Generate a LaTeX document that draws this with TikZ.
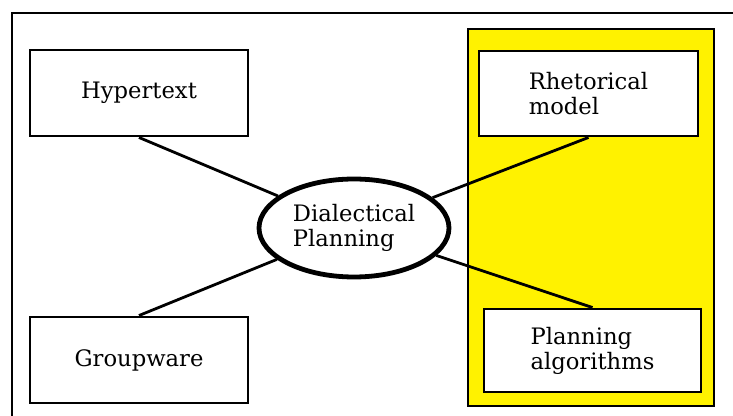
\documentclass[tikz,border=0pt]{standalone}
\usepackage{fontspec}
\setmainfont{DejaVu Serif}
\usepackage{xcolor}
\usepackage{tikz}
\usetikzlibrary{shapes.geometric, positioning}

\definecolor{panelyellow}{RGB}{255,242,0}

\begin{document}
\begin{tikzpicture}[x=0.75pt, y=-0.75pt,
        topic/.style={draw, line width=2.2pt, fill=white, inner sep=0pt,
            align=left, font=\fontsize{17}{18.75}\selectfont},
        hub/.style={ellipse, draw, line width=3.6pt, fill=white, inner sep=0pt,
            minimum width=142.5pt, minimum height=73.5pt, align=left,
            font=\fontsize{17}{18.75}\selectfont},
        link/.style={line width=2.1pt}]
        \clip (0,0) rectangle (733,416);
        \useasboundingbox (0,0) rectangle (733,416);

        % Outer frame and the yellow panel
        \draw[line width=2.2pt] (12,13) rectangle (760,440);
        \draw[fill=panelyellow, line width=1.5pt] (468,29) rectangle (714,406);

        % Add the topics
        \node[topic, minimum width=163.5pt, minimum height=64.5pt]
            (hyp) at (139,93) {Hypertext};
        \node[topic, minimum width=163.5pt, minimum height=64.5pt]
            (grp) at (139,360) {Groupware};
        \node[topic, minimum width=164.25pt, minimum height=63.75pt]
            (rhet) at (588.5,93.5) {Rhetorical\\model};
        \node[topic, minimum width=162.75pt, minimum height=62.25pt]
            (alg) at (592.5,350.5) {Planning\\algorithms};
        \node[hub] (dp) at (354,228) {Dialectical\\Planning};

        % Connect the topics to the hub
        \draw[link] (hyp.south) -- (dp);
        \draw[link] (grp.north) -- (dp);
        \draw[link] (rhet.south) -- (dp);
        \draw[link] (alg.north) -- (dp);
    \end{tikzpicture}
\end{document}
